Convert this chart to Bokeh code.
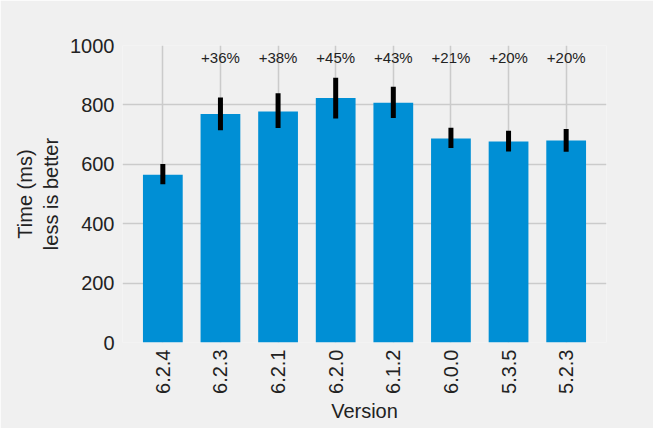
import math
from bokeh.plotting import figure
from bokeh.models import FixedTicker, Range1d, ColumnDataSource
from bokeh.core.properties import value
from bokeh.embed import file_html
from bokeh.resources import INLINE

# ---- data ----
versions = ["6.2.4", "6.2.3", "6.2.1", "6.2.0", "6.1.2", "6.0.0", "5.3.5", "5.2.3"]
times = [565, 769, 778, 823, 807, 687, 677, 680]
err_low = [533, 715, 722, 754, 756, 655, 643, 642]
err_high = [601, 825, 839, 891, 861, 723, 713, 719]
pct_labels = ["", "+36%", "+38%", "+45%", "+43%", "+21%", "+20%", "+20%"]
y_ticks = [0, 200, 400, 600, 800, 1000]

FONT = "Liberation Sans"
BG = "#f0f0f0"
TXT = "#222222"

xs = list(range(len(versions)))
src = ColumnDataSource(dict(x=xs, top=times, lo=err_low, hi=err_high))
ann_idx = [i for i, s in enumerate(pct_labels) if s]
ann = ColumnDataSource(dict(x=[xs[i] for i in ann_idx],
                            y=[958] * len(ann_idx),
                            t=[pct_labels[i] for i in ann_idx]))

p = figure(width=653, height=428, output_backend="svg", toolbar_location=None,
           x_range=Range1d(-0.7, len(versions) - 1 + 0.7),
           y_range=Range1d(0, 1000),
           min_border_left=122, min_border_right=47,
           min_border_top=45, min_border_bottom=86)

p.background_fill_color = BG
p.border_fill_color = BG
p.outline_line_color = None

p.vbar(x="x", top="top", width=0.69, bottom=0, source=src,
       fill_color="#008fd5", line_color=None)
p.segment(x0="x", y0="lo", x1="x", y1="hi", source=src,
          line_color="black", line_width=5)
p.text(x="x", y="y", text="t", source=ann,
       text_font=value(FONT), text_font_size="15px", text_color=TXT,
       text_align="center", text_baseline="middle")

# axes
p.xaxis.ticker = FixedTicker(ticks=xs)
p.xaxis.major_label_overrides = {i: v for i, v in zip(xs, versions)}
p.xaxis.major_label_orientation = math.pi / 2
p.yaxis.ticker = FixedTicker(ticks=y_ticks)

for ax in (p.xaxis[0], p.yaxis[0]):
    ax.axis_line_color = None
    ax.major_tick_line_color = None
    ax.minor_tick_line_color = None
    ax.major_tick_in = 0
    ax.major_tick_out = 0
    ax.major_label_text_font = FONT
    ax.major_label_text_font_size = "20px"
    ax.major_label_text_color = TXT
    ax.axis_label_text_font = FONT
    ax.axis_label_text_font_size = "20px"
    ax.axis_label_text_font_style = "normal"
    ax.axis_label_text_color = TXT

p.xaxis.axis_label = "Version"
p.xaxis.major_label_standoff = 7
p.xaxis.axis_label_standoff = 3
p.yaxis.axis_label = "Time (ms)\nless is better"
p.yaxis.major_label_standoff = 8
p.yaxis.axis_label_standoff = 5

# grids
p.xgrid.ticker = FixedTicker(ticks=xs)
p.ygrid.ticker = FixedTicker(ticks=[200, 400, 600, 800])
p.xgrid.grid_line_color = "#cbcbcb"
p.ygrid.grid_line_color = "#cbcbcb"
p.xgrid.grid_line_width = 1.5
p.ygrid.grid_line_width = 1.5

open("out.html", "w").write(file_html(p, INLINE))
